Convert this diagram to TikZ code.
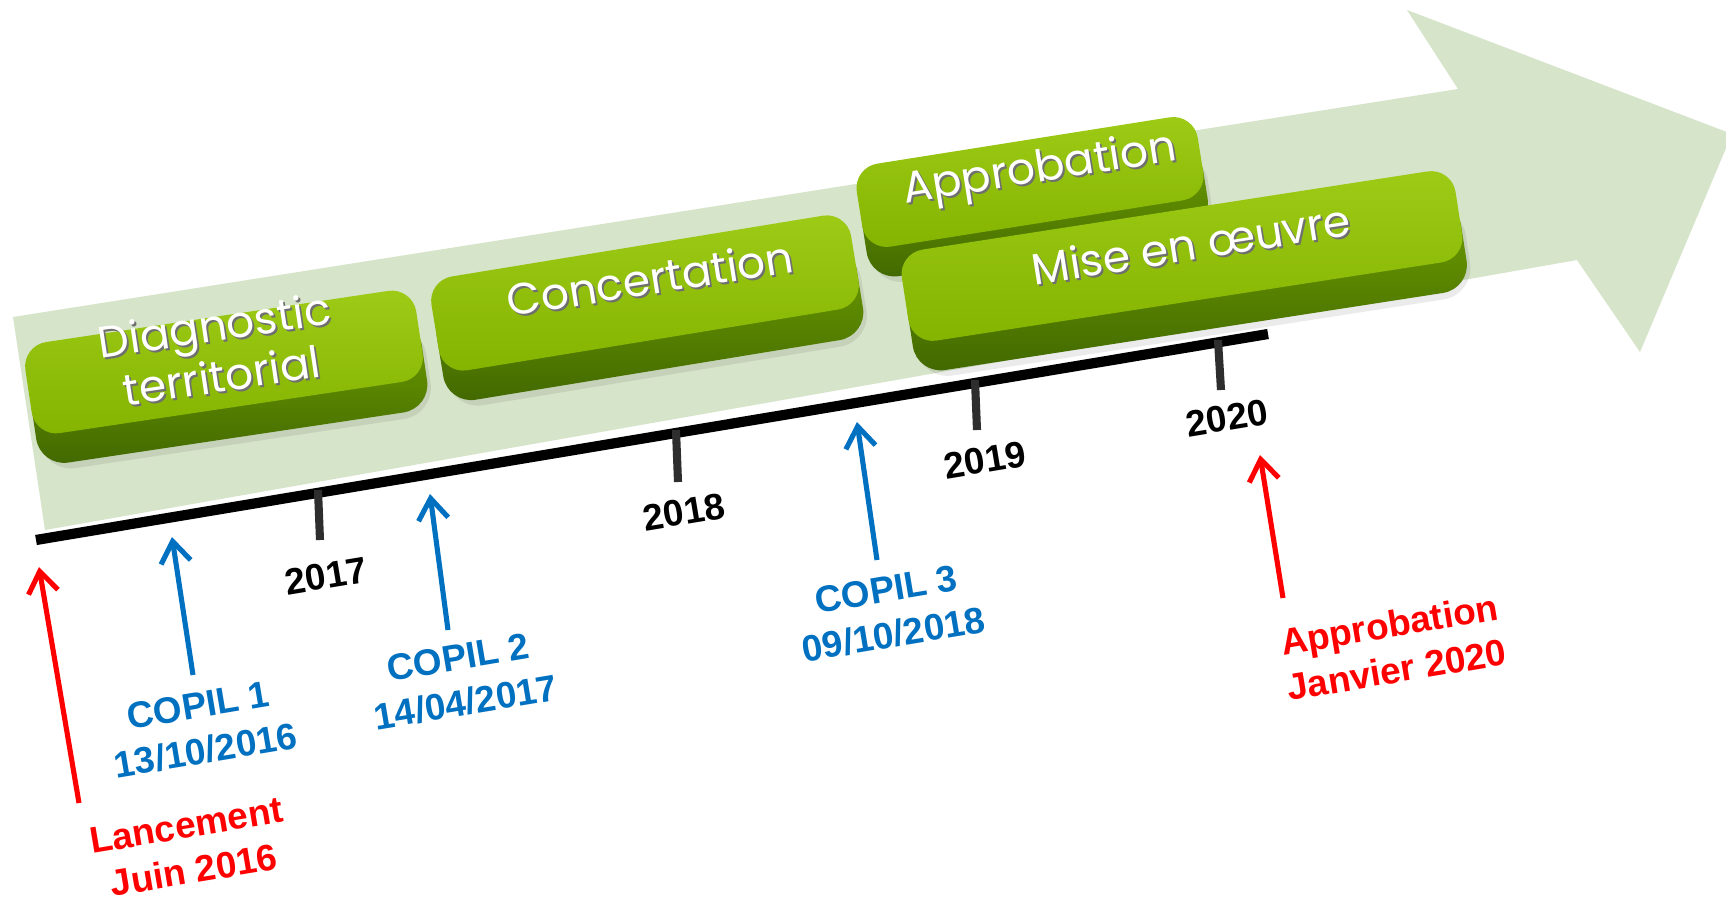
\documentclass[tikz,border=0pt]{standalone}
\usepackage{fontspec}
\setmainfont{Liberation Sans}
\newfontfamily\keyfont{Poppins}
\usetikzlibrary{arrows.meta,calc}
\definecolor{bandgreen}{HTML}{D6E4C9}
\definecolor{keytopA}{HTML}{9DCB16}
\definecolor{keytopB}{HTML}{84B300}
\definecolor{keysideA}{HTML}{6E9E00}
\definecolor{keysideB}{HTML}{416800}
\definecolor{lblue}{HTML}{0070C0}
\definecolor{lred}{HTML}{FF0000}
\definecolor{tickgray}{HTML}{2E2E2E}
\definecolor{txtshadow}{HTML}{6F6F6F}
\newcommand{\drawkey}[6]{%
  \node[keyshadow, minimum width=#4, minimum height=#5, rotate=#6] (#1-shadow) at (#2+9,#3+36) {};
  \node[keyside, minimum width=#4, minimum height=#5, rotate=#6] (#1-side) at (#2+5,#3+30) {};
  \node[keytop, minimum width=#4, minimum height=#5, rotate=#6] (#1) at (#2,#3) {};
}
\begin{document}
\begin{tikzpicture}[x=0.01cm,y=-0.01cm,
  keytop/.style={rounded corners=7pt, top color=keytopA, bottom color=keytopB, draw=none, inner sep=0pt},
  keyside/.style={rounded corners=8pt, top color=keysideA, bottom color=keysideB, draw=none, inner sep=0pt},
  keyshadow/.style={rounded corners=9pt, fill=black, fill opacity=0.08, draw=none, inner sep=0pt},
  keytext/.style={font=\keyfont\fontsize{12.5}{14.5}\selectfont, text=white, align=center, inner sep=0pt},
  keyshade/.style={font=\keyfont\fontsize{12.5}{14.5}\selectfont, text=txtshadow, align=center, inner sep=0pt},
  lbl/.style={font=\bfseries\fontsize{10.5}{13}\selectfont, align=center, inner sep=0pt, rotate=9.5},
  year/.style={font=\bfseries\fontsize{10.5}{12.6}\selectfont, text=black, inner sep=0pt, rotate=9.5},
  tickmark/.style={draw=tickgray, line width=2.3pt},
  ptr/.style={line width=1.45pt, -{Straight Barb[length=6pt,width=8.5pt]}},
]
\useasboundingbox (0,0) rectangle (1726,906);
\fill[white] (0,0) rectangle (1726,906);
% big light green arrow
\fill[bandgreen] (13,317) -- (1458,89) -- (1407,10) -- (1732,134) -- (1640,352) -- (1577,260) -- (45,530) -- cycle;
% timeline
\coordinate (tlA) at (36,540);
\coordinate (tlB) at (1268,334);
\draw[line width=2.9pt, black] (tlA) -- (tlB);
% ticks
\coordinate (t17a) at (318,490); \coordinate (t17b) at (320,540);
\coordinate (t18a) at (676,430); \coordinate (t18b) at (678,482);
\coordinate (t19a) at (975,380); \coordinate (t19b) at (977,430);
\coordinate (t20a) at (1218,340); \coordinate (t20b) at (1221,390);
\draw[tickmark] (t17a) -- (t17b);
\draw[tickmark] (t18a) -- (t18b);
\draw[tickmark] (t19a) -- (t19b);
\draw[tickmark] (t20a) -- (t20b);
% keys
\drawkey{diag}{224}{362}{3.95cm}{0.92cm}{8.5}
\drawkey{conc}{645}{293}{4.25cm}{0.95cm}{9.3}
\drawkey{appr}{1030}{182}{3.45cm}{0.84cm}{9}
\drawkey{mise}{1182}{256}{5.6cm}{0.92cm}{8.8}
% key texts
\node[keyshade, rotate=8.5] (diag-ts) at (220,352) {Diagnostic\\territorial};
\node[keytext, rotate=8.5] (diag-t) at (218,350) {Diagnostic\\territorial};
\node[keyshade, rotate=9] (conc-ts) at (652,280) {Concertation};
\node[keytext, rotate=9] (conc-t) at (650,278) {Concertation};
\node[keyshade, rotate=9] (appr-ts) at (1042,173) {Approbation};
\node[keytext, rotate=9] (appr-t) at (1040,171) {Approbation};
\node[keyshade, rotate=9] (mise-ts) at (1193,246) {Mise en œuvre};
\node[keytext, rotate=9] (mise-t) at (1191,244) {Mise en œuvre};
% year labels
\node[year] (y17) at (326,576) {2017};
\node[year] (y18) at (684,512) {2018};
\node[year] (y19) at (985,460) {2019};
\node[year] (y20) at (1227,418) {2020};
% milestone labels
\node[lbl, text=lred] (lanc) at (190,848) {Lancement\\Juin 2016};
\node[lbl, text=lblue] (cop1) at (202,728) {COPIL 1\\13/10/2016};
\node[lbl, text=lblue] (cop2) at (462,680) {COPIL 2\\14/04/2017};
\node[lbl, text=lblue] (cop3) at (890,612) {COPIL 3\\09/10/2018};
\node[lbl, text=lred] (apprl) at (1393,647) {Approbation\\Janvier 2020};
% arrows
\coordinate (lancS) at (79,803);   \coordinate (lancE) at (39,567);
\coordinate (cop1S) at (193,675);  \coordinate (cop1E) at (172,537);
\coordinate (cop2S) at (448,630);  \coordinate (cop2E) at (430,494);
\coordinate (cop3S) at (877,560);  \coordinate (cop3E) at (857,422);
\coordinate (apprS) at (1283,598); \coordinate (apprE) at (1260,455);
\draw[ptr, lred] (lancS) -- (lancE);
\draw[ptr, lblue] (cop1S) -- (cop1E);
\draw[ptr, lblue] (cop2S) -- (cop2E);
\draw[ptr, lblue] (cop3S) -- (cop3E);
\draw[ptr, lred] (apprS) -- (apprE);
\end{tikzpicture}
\end{document}
